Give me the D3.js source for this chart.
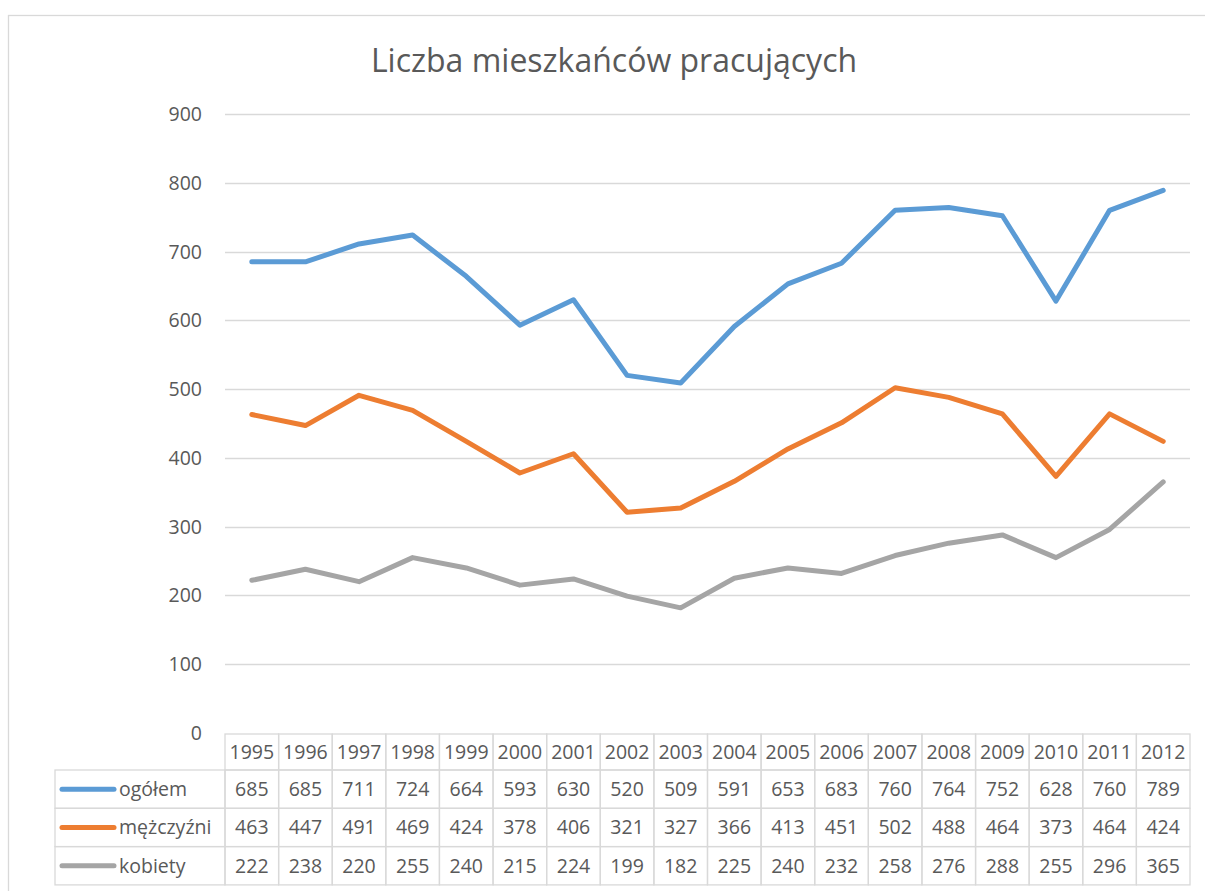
<!DOCTYPE html>
<html lang="pl">
  <head>
    <meta charset="UTF-8"/>
    <title>Liczba mieszkańców pracujących</title>
    <script src="https://d3js.org/d3.v7.min.js"></script>
    <style>
        body {
          margin: 0;
          background: #fff;
          font-family: "Open Sans", sans-serif;
        }
        .grid line {
          stroke: #d9d9d9;
          stroke-width: 1.3;
        }
        .tick-label,
        .cell-text {
          fill: #595959;
          font-size: 19.5px;
        }
        .cell {
          fill: none;
          stroke: #d9d9d9;
          stroke-width: 1.3;
        }
        .series {
          fill: none;
          stroke-width: 5;
          stroke-linejoin: round;
          stroke-linecap: round;
        }
    </style>
  </head>
  <body>
    <script>
        // data
        const years   = ["1995", "1996", "1997", "1998", "1999", "2000", "2001", "2002", "2003",
                         "2004", "2005", "2006", "2007", "2008", "2009", "2010", "2011", "2012"]
        const ogolem  = [685, 685, 711, 724, 664, 593, 630, 520, 509, 591, 653, 683, 760, 764, 752, 628, 760, 789]
        const mezczyzni = [463, 447, 491, 469, 424, 378, 406, 321, 327, 366, 413, 451, 502, 488, 464, 373, 464, 424]
        const kobiety = [222, 238, 220, 255, 240, 215, 224, 199, 182, 225, 240, 232, 258, 276, 288, 255, 296, 365]
        const seriesNames = ["ogółem", "mężczyźni", "kobiety"]
        const yTicks = [0, 100, 200, 300, 400, 500, 600, 700, 800, 900]

        const colors = ["#5b9bd5", "#ed7d31", "#a5a5a5"]
        const series = [ogolem, mezczyzni, kobiety].map((values, i) => ({
          name: seriesNames[i], color: colors[i], values
        }))

        const width = 1205, height = 891
        const plot = {left: 225, right: 1190, top: 114, bottom: 733}
        const table = {legendLeft: 55, headTop: 734, headBottom: 770, rowH: 38.3}

        const svg = d3.select("body").append("svg")
            .attr("width", width)
            .attr("height", height)

        // chart area border (runs off the right and bottom edges)
        svg.append("rect")
            .attr("x", 8.5).attr("y", 15.5)
            .attr("width", 1220).attr("height", 900)
            .attr("fill", "none")
            .attr("stroke", "#d9d9d9")
            .attr("stroke-width", 1.3)

        svg.append("text")
            .attr("x", 614).attr("y", 72)
            .attr("text-anchor", "middle")
            .attr("fill", "#595959")
            .style("font-size", "32px")
            .text("Liczba mieszkańców pracujących")

        const x = d3.scaleBand()
            .domain(years)
            .range([plot.left, plot.right])

        const y = d3.scaleLinear()
            .domain([0, 900])
            .range([plot.bottom, plot.top])

        // horizontal gridlines
        svg.append("g").attr("class", "grid")
          .selectAll("line")
          .data(yTicks.filter(d => d > 0))
          .join("line")
            .attr("x1", plot.left).attr("x2", plot.right)
            .attr("y1", d => Math.round(y(d)) + 0.5)
            .attr("y2", d => Math.round(y(d)) + 0.5)

        svg.append("g")
          .selectAll("text")
          .data(yTicks)
          .join("text")
            .attr("class", "tick-label")
            .attr("x", 202)
            .attr("y", d => y(d) + 7)
            .attr("text-anchor", "end")
            .text(d => d)

        const line = d3.line()
            .x((d, i) => x(years[i]) + x.bandwidth() / 2)
            .y(d => y(d))

        svg.append("g")
          .selectAll("path")
          .data(series)
          .join("path")
            .attr("class", "series")
            .attr("stroke", d => d.color)
            .attr("d", d => line(d.values))

        // data table below the plot
        const tbl = svg.append("g")

        tbl.selectAll("rect.head")
          .data(years)
          .join("rect")
            .attr("class", "cell")
            .attr("x", d => x(d))
            .attr("y", table.headTop)
            .attr("width", x.bandwidth())
            .attr("height", table.headBottom - table.headTop)

        tbl.selectAll("text.head")
          .data(years)
          .join("text")
            .attr("class", "cell-text")
            .attr("x", d => x(d) + x.bandwidth() / 2)
            .attr("y", table.headTop + 25)
            .attr("text-anchor", "middle")
            .text(d => d)

        const rows = tbl.selectAll("g.row")
          .data(series)
          .join("g")
            .attr("transform", (d, i) => `translate(0, ${table.headBottom + i * table.rowH})`)

        rows.append("rect")
            .attr("class", "cell")
            .attr("x", table.legendLeft)
            .attr("y", 0)
            .attr("width", plot.left - table.legendLeft)
            .attr("height", table.rowH)

        rows.append("line")
            .attr("x1", 62).attr("x2", 114)
            .attr("y1", table.rowH / 2).attr("y2", table.rowH / 2)
            .attr("stroke", d => d.color)
            .attr("stroke-width", 5)
            .attr("stroke-linecap", "round")

        rows.append("text")
            .attr("class", "cell-text")
            .attr("x", 119)
            .attr("y", table.rowH / 2 + 7)
            .text(d => d.name)

        rows.selectAll("rect.val")
          .data(d => d.values)
          .join("rect")
            .attr("class", "cell")
            .attr("x", (d, i) => x(years[i]))
            .attr("y", 0)
            .attr("width", x.bandwidth())
            .attr("height", table.rowH)

        rows.selectAll("text.val")
          .data(d => d.values)
          .join("text")
            .attr("class", "cell-text")
            .attr("x", (d, i) => x(years[i]) + x.bandwidth() / 2)
            .attr("y", table.rowH / 2 + 7)
            .attr("text-anchor", "middle")
            .text(d => d)
    </script>
  </body>
</html>
